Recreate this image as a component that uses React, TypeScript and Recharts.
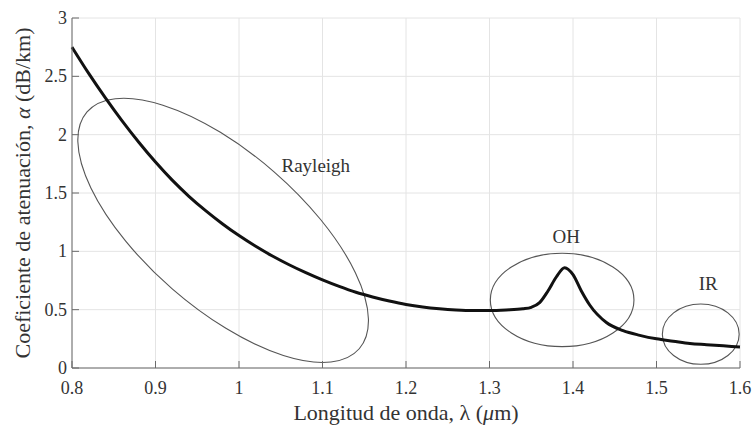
import React from 'react';
import {
    LineChart,
    Line,
    XAxis,
    YAxis,
    CartesianGrid,
    ReferenceArea,
    ReferenceDot
} from 'recharts';

// wavelength (um) and attenuation (dB/km)
const wavelengths = [
    0.80, 0.82, 0.84, 0.86, 0.88, 0.90, 0.92, 0.94, 0.96, 0.98,
    1.00, 1.02, 1.04, 1.06, 1.08, 1.10, 1.12, 1.14, 1.16, 1.18,
    1.20, 1.22, 1.24, 1.26, 1.28, 1.30, 1.32, 1.34, 1.35, 1.36,
    1.37, 1.38, 1.39, 1.40, 1.41, 1.42, 1.44, 1.46, 1.48, 1.50,
    1.52, 1.54, 1.56, 1.58, 1.60
];
const attenuation = [
    2.75, 2.525, 2.315, 2.118, 1.935, 1.765, 1.61, 1.472, 1.349, 1.237,
    1.135, 1.043, 0.96, 0.885, 0.817, 0.755, 0.699, 0.649, 0.609, 0.574,
    0.544, 0.522, 0.507, 0.497, 0.492, 0.492, 0.497, 0.507, 0.52, 0.56,
    0.66, 0.78, 0.86, 0.80, 0.66, 0.54, 0.39, 0.32, 0.28, 0.25,
    0.23, 0.21, 0.20, 0.19, 0.18
];

const xTicks = [0.8, 0.9, 1, 1.1, 1.2, 1.3, 1.4, 1.5, 1.6];
const yTicks = [0, 0.5, 1, 1.5, 2, 2.5, 3];

// annotation ellipses, in data units
const rayleighCenter = [0.981, 1.18];
const rayleighMajorEnd = [1.144, 0.165];
const rayleighMinorRatio = 0.43;
const ohBox = [1.301, 1.473, 0.183, 0.983];
const irBox = [1.507, 1.599, 0.032, 0.548];

const annotationTexts = ['Rayleigh', 'OH', 'IR'];
const annotationX = [1.092, 1.392, 1.562];
const annotationY = [1.74, 1.125, 0.726];

const chartData = wavelengths.map((w, i) => ({ wavelength: w, alpha: attenuation[i] }));

const FONT = 'Liberation Serif, DejaVu Serif, serif';
const FRAME = '#6b6b6b';
const TEXT = '#333333';
const TICK_LEN = 7;

const BottomTick = (props: any) => {
    const { x, y, payload } = props;
    return (
        <g>
            <line x1={x} x2={x} y1={y} y2={y - TICK_LEN} stroke={FRAME} />
            <text x={x} y={y + 26} textAnchor="middle" style={{ fontFamily: FONT, fontSize: 18 }} fill={TEXT}>{payload.value}</text>
        </g>
    );
};

const LeftTick = (props: any) => {
    const { x, y, payload } = props;
    return (
        <g>
            <line x1={x} x2={x + TICK_LEN} y1={y} y2={y} stroke={FRAME} />
            <text x={x - 5} y={y + 6} textAnchor="end" style={{ fontFamily: FONT, fontSize: 18 }} fill={TEXT}>{payload.value}</text>
        </g>
    );
};

const TopTick = (props: any) => {
    const { x, y } = props;
    return <line x1={x} x2={x} y1={y} y2={y + TICK_LEN} stroke={FRAME} />;
};

const RightTick = (props: any) => {
    const { x, y } = props;
    return <line x1={x} x2={x - TICK_LEN} y1={y} y2={y} stroke={FRAME} />;
};

const XLabel = (props: any) => {
    const vb = props.viewBox;
    return (
        <text x={vb.x + vb.width / 2} y={vb.y + vb.height - 10} textAnchor="middle" style={{ fontFamily: FONT, fontSize: 22 }} fill={TEXT}>
            Longitud de onda, λ (<tspan fontStyle="italic">μ</tspan>m)
        </text>
    );
};

const YLabel = (props: any) => {
    const vb = props.viewBox;
    const cx = vb.x + 22;
    const cy = vb.y + vb.height / 2;
    return (
        <text x={cx} y={cy} transform={`rotate(-90, ${cx}, ${cy})`} textAnchor="middle" dominantBaseline="central"
            style={{ fontFamily: FONT, fontSize: 22 }} fill={TEXT}>
            Coeficiente de atenuación, <tspan fontStyle="italic">α</tspan> (dB/km)
        </text>
    );
};

const BoxEllipse = (props: any) => {
    const { x, y, width, height } = props;
    return <ellipse cx={x + width / 2} cy={y + height / 2} rx={width / 2} ry={height / 2} fill="none" stroke="#555" strokeWidth={1.1} />;
};

// rect spans from ellipse centre (top-left) to the end of the major axis (bottom-right)
const RotatedEllipse = (props: any) => {
    const { x, y, width, height } = props;
    const a = Math.hypot(width, height);
    const angle = Math.atan2(height, width) * 180 / Math.PI;
    return (
        <ellipse cx={x} cy={y} rx={a} ry={a * rayleighMinorRatio} transform={`rotate(${angle}, ${x}, ${y})`}
            fill="none" stroke="#555" strokeWidth={1.1} />
    );
};

const App: React.FC = () => {
    return (
        <div style={{ position: 'absolute', left: 0, top: 0, width: 755, height: 430, background: '#fff' }}>
            <LineChart width={755} height={430} data={chartData} margin={{ top: 18, right: 15, bottom: 0, left: 0 }}>
                <CartesianGrid stroke="#e4e4e4" />
                <XAxis dataKey="wavelength" type="number" domain={[0.8, 1.6]} ticks={xTicks} height={62}
                    tickLine={false} tickSize={0} tickMargin={0} axisLine={{ stroke: FRAME }}
                    tick={<BottomTick />} label={{ content: XLabel }} />
                <XAxis xAxisId="top" orientation="top" dataKey="wavelength" type="number" domain={[0.8, 1.6]} ticks={xTicks}
                    height={0} tickLine={false} tickSize={0} tickMargin={0} axisLine={{ stroke: FRAME }} tick={<TopTick />} />
                <YAxis type="number" domain={[0, 3]} ticks={yTicks} width={72}
                    tickLine={false} tickSize={0} tickMargin={0} axisLine={{ stroke: FRAME }}
                    tick={<LeftTick />} label={{ content: YLabel }} />
                <YAxis yAxisId="right" orientation="right" type="number" domain={[0, 3]} ticks={yTicks} width={0}
                    tickLine={false} tickSize={0} tickMargin={0} axisLine={{ stroke: FRAME }} tick={<RightTick />} />
                <ReferenceArea x1={rayleighCenter[0]} x2={rayleighMajorEnd[0]} y1={rayleighCenter[1]} y2={rayleighMajorEnd[1]}
                    ifOverflow="visible" shape={<RotatedEllipse />} />
                <ReferenceArea x1={ohBox[0]} x2={ohBox[1]} y1={ohBox[2]} y2={ohBox[3]} ifOverflow="visible" shape={<BoxEllipse />} />
                <ReferenceArea x1={irBox[0]} x2={irBox[1]} y1={irBox[2]} y2={irBox[3]} ifOverflow="visible" shape={<BoxEllipse />} />
                <Line type="monotone" dataKey="alpha" stroke="#111" strokeWidth={3} dot={false} isAnimationActive={false} />
                {annotationTexts.map((t, i) => (
                    <ReferenceDot key={t} x={annotationX[i]} y={annotationY[i]} ifOverflow="visible"
                        shape={(p: any) => (
                            <text x={p.cx} y={p.cy} textAnchor="middle" dominantBaseline="central" style={{ fontFamily: FONT, fontSize: 19 }} fill={TEXT}>{t}</text>
                        )} />
                ))}
            </LineChart>
        </div>
    );
};

export default App;
